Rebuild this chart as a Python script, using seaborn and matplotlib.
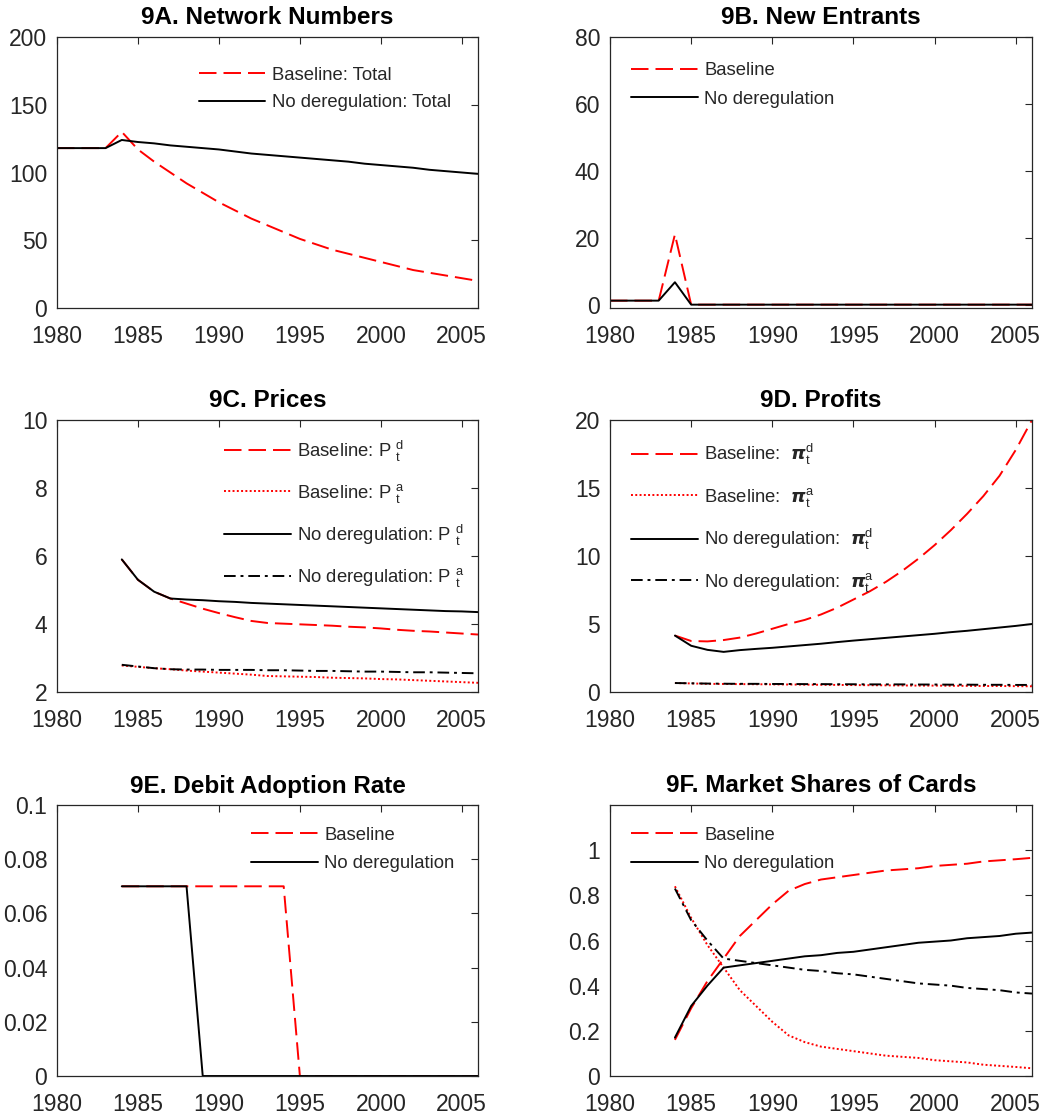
import numpy as np
import pandas as pd
import matplotlib
matplotlib.use("Agg")
import matplotlib.pyplot as plt
import seaborn as sns
from matplotlib.ticker import FixedLocator, FuncFormatter

# ---------------- data ----------------
years_all = list(range(1980, 2007))
years_post = list(range(1984, 2007))

net_base = [118, 118, 118, 118, 130, 117, 108, 100, 92, 85, 78, 72, 66, 61, 56, 51,
            47, 43, 40, 37, 34, 31, 28, 26, 24, 22, 20]
net_nodereg = [118, 118, 118, 118, 124, 122.5, 121.5, 120, 119, 118, 117, 115.5, 114,
               113, 112, 111, 110, 109, 108, 106.5, 105.5, 104.5, 103.5, 102, 101, 100, 99]

entr_base = [1.2, 1.2, 1.2, 1.2, 21, 0, 0, 0, 0, 0, 0, 0, 0, 0, 0, 0, 0, 0, 0, 0, 0, 0,
             0, 0, 0, 0, 0]
entr_nodereg = [1.2, 1.2, 1.2, 1.2, 6.7, 0, 0, 0, 0, 0, 0, 0, 0, 0, 0, 0, 0, 0, 0, 0, 0,
                0, 0, 0, 0, 0, 0]

price_base_d = [5.9, 5.3, 4.95, 4.75, 4.6, 4.45, 4.32, 4.2, 4.09, 4.03, 4.01, 3.99, 3.97,
                3.95, 3.92, 3.9, 3.87, 3.83, 3.8, 3.78, 3.75, 3.72, 3.69]
price_base_a = [2.78, 2.74, 2.7, 2.67, 2.63, 2.6, 2.57, 2.54, 2.51, 2.47, 2.46, 2.45, 2.44,
                2.42, 2.41, 2.4, 2.38, 2.37, 2.35, 2.33, 2.31, 2.29, 2.27]
price_nodereg_d = [5.9, 5.3, 4.95, 4.75, 4.72, 4.7, 4.67, 4.65, 4.62, 4.6, 4.58, 4.56, 4.54,
                   4.52, 4.5, 4.48, 4.46, 4.44, 4.42, 4.4, 4.38, 4.37, 4.35]
price_nodereg_a = [2.8, 2.75, 2.7, 2.67, 2.66, 2.66, 2.65, 2.65, 2.65, 2.64, 2.64, 2.63,
                   2.62, 2.62, 2.61, 2.6, 2.6, 2.59, 2.58, 2.58, 2.57, 2.56, 2.55]

profit_base_d = [4.15, 3.75, 3.72, 3.82, 4.0, 4.3, 4.65, 5.0, 5.3, 5.7, 6.2, 6.8, 7.4, 8.1,
                 8.9, 9.8, 10.8, 11.9, 13.1, 14.4, 15.9, 17.8, 20.0]
profit_base_a = [0.66, 0.63, 0.6, 0.59, 0.58, 0.57, 0.56, 0.55, 0.54, 0.53, 0.52, 0.51, 0.5,
                 0.49, 0.48, 0.47, 0.47, 0.46, 0.45, 0.44, 0.44, 0.43, 0.42]
profit_nodereg_d = [4.15, 3.4, 3.1, 2.95, 3.08, 3.17, 3.25, 3.35, 3.45, 3.55, 3.67, 3.78,
                    3.88, 3.98, 4.08, 4.18, 4.28, 4.4, 4.5, 4.62, 4.74, 4.86, 5.0]
profit_nodereg_a = [0.66, 0.64, 0.62, 0.61, 0.6, 0.6, 0.59, 0.59, 0.58, 0.58, 0.57, 0.57,
                    0.56, 0.56, 0.56, 0.55, 0.55, 0.54, 0.54, 0.53, 0.53, 0.52, 0.52]

adopt_base = [0.07, 0.07, 0.07, 0.07, 0.07, 0.07, 0.07, 0.07, 0.07, 0.07, 0.07, 0, 0, 0, 0,
              0, 0, 0, 0, 0, 0, 0, 0]
adopt_nodereg = [0.07, 0.07, 0.07, 0.07, 0.07, 0, 0, 0, 0, 0, 0, 0, 0, 0, 0, 0, 0, 0, 0, 0,
                 0, 0, 0]

share_base_debit = [0.16, 0.3, 0.42, 0.52, 0.62, 0.69, 0.76, 0.82, 0.85, 0.87, 0.88, 0.89,
                    0.9, 0.91, 0.915, 0.92, 0.93, 0.935, 0.94, 0.95, 0.955, 0.96, 0.966]
share_base_credit = [0.84, 0.7, 0.58, 0.48, 0.38, 0.31, 0.24, 0.18, 0.15, 0.13, 0.12, 0.11,
                     0.1, 0.09, 0.085, 0.08, 0.07, 0.065, 0.06, 0.05, 0.045, 0.04, 0.034]
share_nodereg_debit = [0.17, 0.31, 0.4, 0.48, 0.49, 0.5, 0.51, 0.52, 0.53, 0.535, 0.545,
                       0.55, 0.56, 0.57, 0.58, 0.59, 0.595, 0.6, 0.61, 0.615, 0.62, 0.63, 0.635]
share_nodereg_credit = [0.83, 0.69, 0.6, 0.52, 0.51, 0.5, 0.49, 0.48, 0.47, 0.465, 0.455,
                        0.45, 0.44, 0.43, 0.42, 0.41, 0.405, 0.4, 0.39, 0.385, 0.38, 0.37, 0.365]

titles = ["9A. Network Numbers", "9B. New Entrants", "9C. Prices", "9D. Profits",
          "9E. Debit Adoption Rate", "9F. Market Shares of Cards"]
xticks = [1980, 1985, 1990, 1995, 2000, 2005]

# ---------------- style ----------------
sns.set_style("white")
plt.rcParams["font.family"] = ["Liberation Sans", "DejaVu Sans"]
plt.rcParams["mathtext.fontset"] = "custom"
plt.rcParams["mathtext.rm"] = "Liberation Sans"
plt.rcParams["mathtext.it"] = "Liberation Sans"
plt.rcParams["mathtext.bf"] = "Liberation Sans:bold"

AX_COL = "#262626"
RED = "#ff0000"
LW = 1.4
DASH = (0, (9, 3.6))
DOT = (0, (1.0, 1.2))
DASHDOT = (0, (6, 2.5, 1.5, 2.5))

fig = plt.figure(figsize=(10.52, 11.18), dpi=100)
W, H = 1052, 1118
cols = [57, 610]
widths = [421, 422]
rows = [(37, 308), (420, 692), (805, 1076)]

axes = []
for r in range(3):
    for c in range(2):
        top, bot = rows[r]
        ax = fig.add_axes([cols[c] / W, 1 - bot / H, widths[c] / W, (bot - top) / H])
        axes.append(ax)


def style_axis(ax, title, ylim, yticks, fmt="%g"):
    ax.set_xlim(1980, 2006)
    ax.set_ylim(*ylim)
    ax.xaxis.set_major_locator(FixedLocator(xticks))
    ax.yaxis.set_major_locator(FixedLocator(yticks))
    ax.yaxis.set_major_formatter(FuncFormatter(lambda v, p: fmt % v))
    ax.xaxis.set_major_formatter(FuncFormatter(lambda v, p: "%d" % v))
    ax.tick_params(axis="both", direction="in", length=5, width=0.8, colors=AX_COL,
                   labelsize=16.5, top=True, right=True)
    ax.tick_params(axis="x", pad=12)
    ax.tick_params(axis="y", pad=7)
    for s in ax.spines.values():
        s.set_visible(True)
        s.set_color(AX_COL)
        s.set_linewidth(0.9)
    ax.set_xlabel("")
    ax.set_ylabel("")
    ax.set_title(title, fontsize=17.5, fontweight="bold", pad=9, color="black")


def draw(ax, x, y, color, ls, label):
    df = pd.DataFrame({"year": x, "value": y})
    sns.lineplot(data=df, x="year", y="value", ax=ax, color=color, linestyle=ls,
                 linewidth=LW, label=label, errorbar=None, sort=False)


def legend(ax, x, y, spacing=0.55):
    ax.legend(loc="upper left", bbox_to_anchor=(x, y), frameon=False, fontsize=13.3,
              handlelength=3.6, handletextpad=0.35, borderpad=0, borderaxespad=0,
              labelspacing=spacing)


# A
ax = axes[0]
draw(ax, years_all, net_base, RED, DASH, "Baseline: Total")
draw(ax, years_all, net_nodereg, "black", "-", "No deregulation: Total")
style_axis(ax, titles[0], (0, 200), [0, 50, 100, 150, 200])
legend(ax, 0.337, 0.89, spacing=0.57)

# B
ax = axes[1]
draw(ax, years_all, entr_base, RED, DASH, "Baseline")
draw(ax, years_all, entr_nodereg, "black", "-", "No deregulation")
style_axis(ax, titles[1], (-1, 80), [0, 20, 40, 60, 80])
legend(ax, 0.05, 0.907, spacing=0.62)

# C
ax = axes[2]
draw(ax, years_post, price_base_d, RED, DASH, r"Baseline: P $^{d}_{t}$")
draw(ax, years_post, price_base_a, RED, DOT, r"Baseline: P $^{a}_{t}$")
draw(ax, years_post, price_nodereg_d, "black", "-", r"No deregulation: P $^{d}_{t}$")
draw(ax, years_post, price_nodereg_a, "black", DASHDOT, r"No deregulation: P $^{a}_{t}$")
style_axis(ax, titles[2], (2, 10), [2, 4, 6, 8, 10])
legend(ax, 0.397, 0.932, spacing=0.98)

# D
ax = axes[3]
draw(ax, years_post, profit_base_d, RED, DASH, r"Baseline:  $\boldsymbol{\pi}^{d}_{t}$")
draw(ax, years_post, profit_base_a, RED, DOT, r"Baseline:  $\boldsymbol{\pi}^{a}_{t}$")
draw(ax, years_post, profit_nodereg_d, "black", "-",
     r"No deregulation:  $\boldsymbol{\pi}^{d}_{t}$")
draw(ax, years_post, profit_nodereg_a, "black", DASHDOT,
     r"No deregulation:  $\boldsymbol{\pi}^{a}_{t}$")
style_axis(ax, titles[3], (0, 20), [0, 5, 10, 15, 20])
legend(ax, 0.05, 0.918, spacing=1.0)

# E
ax = axes[4]
draw(ax, years_post, adopt_base, RED, DASH, "Baseline")
draw(ax, years_post, adopt_nodereg, "black", "-", "No deregulation")
style_axis(ax, titles[4], (0, 0.1), [0, 0.02, 0.04, 0.06, 0.08, 0.1])
legend(ax, 0.461, 0.92, spacing=0.63)

# F
ax = axes[5]
draw(ax, years_post, share_base_debit, RED, DASH, "Baseline")
draw(ax, years_post, share_base_credit, RED, DOT, "_nolegend_")
draw(ax, years_post, share_nodereg_debit, "black", "-", "No deregulation")
draw(ax, years_post, share_nodereg_credit, "black", DASHDOT, "_nolegend_")
style_axis(ax, titles[5], (0, 1.2), [0, 0.2, 0.4, 0.6, 0.8, 1.0])
legend(ax, 0.05, 0.92, spacing=0.63)

fig.savefig("out.png", dpi=100)
